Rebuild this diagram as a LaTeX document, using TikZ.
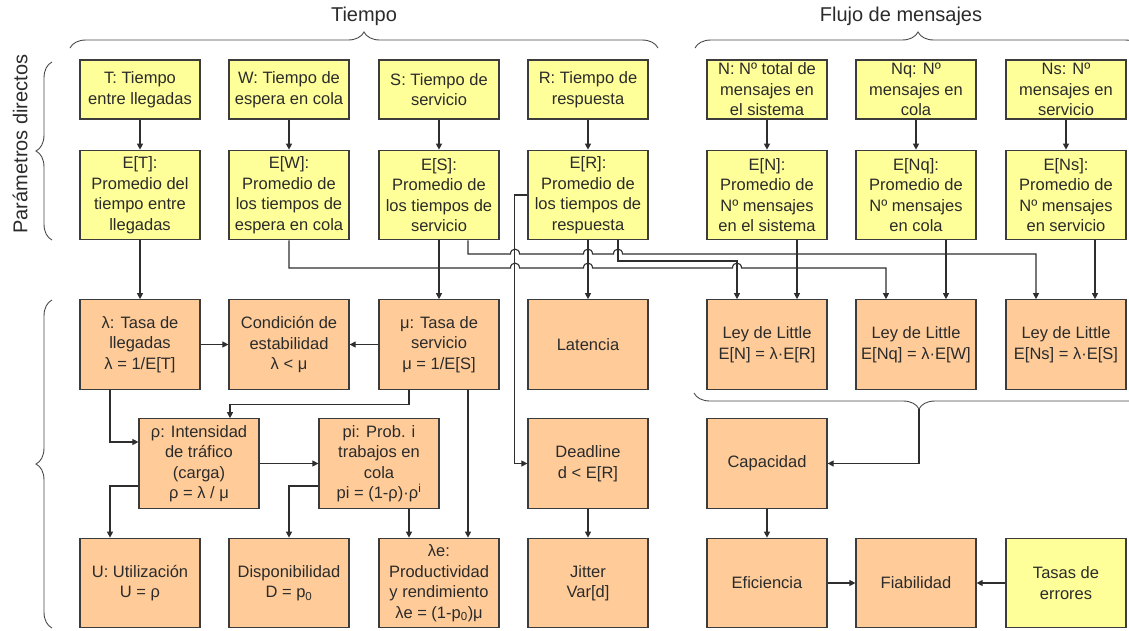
\documentclass[tikz,border=0pt]{standalone}
\usepackage{fontspec}
\setmainfont{Liberation Sans}
\usetikzlibrary{arrows.meta,decorations.pathreplacing}

\definecolor{yel}{HTML}{FFFF99}
\definecolor{ora}{HTML}{FFCC99}
\definecolor{boxline}{HTML}{3C3C3C}
\definecolor{lin}{HTML}{2E2E2E}
\definecolor{txt}{HTML}{2B2B2B}
\definecolor{brc}{HTML}{4A4A4A}

\newcommand\boxfont{\fontsize{16.5}{20.5}\selectfont}
\newcommand\ttlfont{\fontsize{20}{24}\selectfont}
% a small arch where a horizontal connector jumps over a vertical one
\newcommand\hp[2]{-- ({#1-4.5},#2) .. controls ({#1-4.5},{#2-6.5}) and ({#1+4.5},{#2-6.5}) .. ({#1+4.5},#2)}

\tikzset{
  box/.style={draw=boxline, line width=1.2pt, minimum width=120pt, inner sep=0pt,
              align=center, font=\boxfont, text=txt},
  yb/.style={box, fill=yel},
  ob/.style={box, fill=ora},
  hs/.style={minimum height=59pt},
  hl/.style={minimum height=89.5pt},
  conn/.style={draw=lin, line width=1.1pt, -{Triangle[length=6pt,width=6pt]}},
  brc/.style={decorate, decoration={brace, amplitude=16pt}, draw=brc, line width=0.9pt},
  ttl/.style={font=\ttlfont, text=txt, inner sep=0pt},
}

\begin{document}
\begin{tikzpicture}[x=1pt, y=-1pt]
\useasboundingbox (0,0) rectangle (1129,630);

% titles and braces
\node[ttl] (tiempo) at (364,16) {Tiempo};
\node[ttl] (flujo) at (901,16) {Flujo de mensajes};
\node[ttl, rotate=90] (param) at (20,144) {Parámetros directos};
\draw[brc] (70,48) -- (658,48);
\draw[brc] (695,48) -- (1141,48);
\draw[brc] (52,240) -- (52,62);
\draw[brc] (52,628) -- (52,300);
\draw[brc] (1144,393) -- (694,393);
\coordinate (tip) at (919,409);

% row 1: direct parameters
\node[yb, hs] (t)  at (140,89.5)  {T: Tiempo\\entre llegadas};
\node[yb, hs] (w)  at (289,89.5)  {W: Tiempo de\\espera en cola};
\node[yb, hs] (s)  at (439,89.5)  {S: Tiempo de\\servicio};
\node[yb, hs] (r)  at (588,89.5)  {R: Tiempo de\\respuesta};
\node[yb, hs] (n)  at (767,89.5)  {N: Nº total de\\mensajes en\\el sistema};
\node[yb, hs] (nq) at (916,89.5)  {Nq: Nº\\mensajes en\\cola};
\node[yb, hs] (ns) at (1066,89.5) {Ns: Nº\\mensajes en\\servicio};

% row 2: mean values
\node[yb, hl] (et)  at (140,195)  {E[T]:\\Promedio del\\tiempo entre\\llegadas};
\node[yb, hl] (ew)  at (289,195)  {E[W]:\\Promedio de\\los tiempos de\\espera en cola};
\node[yb, hl] (es)  at (439,195)  {E[S]:\\Promedio de\\los tiempos de\\servicio};
\node[yb, hl] (er)  at (588,195)  {E[R]:\\Promedio de\\los tiempos de\\respuesta};
\node[yb, hl] (en)  at (767,195)  {E[N]:\\Promedio de\\Nº mensajes\\en el sistema};
\node[yb, hl] (enq) at (916,195)  {E[Nq]:\\Promedio de\\Nº mensajes\\en cola};
\node[yb, hl] (ens) at (1066,195) {E[Ns]:\\Promedio de\\Nº mensajes\\en servicio};

% row 3
\node[ob, hl] (lam)  at (140,344.5)  {λ: Tasa de\\llegadas\\λ = 1/E[T]};
\node[ob, hl] (cond) at (289,344.5)  {Condición de\\estabilidad\\λ < μ};
\node[ob, hl] (mu)   at (439,344.5)  {μ: Tasa de\\servicio\\μ = 1/E[S]};
\node[ob, hl] (lat)  at (588,344.5)  {Latencia};
\node[ob, hl] (ley1) at (767,344.5)  {Ley de Little\\E[N] = λ·E[R]};
\node[ob, hl] (ley2) at (916,344.5)  {Ley de Little\\E[Nq] = λ·E[W]};
\node[ob, hl] (ley3) at (1066,344.5) {Ley de Little\\E[Ns] = λ·E[S]};

% row 4
\node[ob, hl] (rho) at (199,463.5) {ρ: Intensidad\\de tráfico\\(carga)\\ρ = λ / μ};
\node[ob, hl] (pi)  at (379,463.5) {pi: Prob. i\\trabajos en\\cola\\pi = (1-ρ)·ρ\textsuperscript{i}};
\node[ob, hl] (dl)  at (588,463.5) {Deadline\\d < E[R]};
\node[ob, hl] (cap) at (767,463.5) {Capacidad};

% row 5
\node[ob, hl] (u)    at (140,583)  {U: Utilización\\U = ρ};
\node[ob, hl] (disp) at (289,583)  {Disponibilidad\\D = p\textsubscript{0}};
\node[ob, hl] (lame) at (439,583)  {λe:\\Productividad\\y rendimiento\\λe = (1-p\textsubscript{0})μ};
\node[ob, hl] (jit)  at (588,583)  {Jitter\\Var[d]};
\node[ob, hl] (efi)  at (767,583)  {Eficiencia};
\node[ob, hl] (fia)  at (916,583)  {Fiabilidad};
\node[yb, hl] (tas)  at (1066,583) {Tasas de\\errores};

% parameters to their means
\draw[conn] (t) -- (et);
\draw[conn] (w) -- (ew);
\draw[conn] (s) -- (es);
\draw[conn] (r) -- (er);
\draw[conn] (n) -- (en);
\draw[conn] (nq) -- (enq);
\draw[conn] (ns) -- (ens);

% means to derived quantities
\draw[conn] (et) -- (lam);
\draw[conn] (es) -- (mu);
\draw[conn] (er) -- (lat);
\draw[conn] (er.west) -- ++(-13,0) |- (dl.west);
\draw[conn] ([xshift=30pt]er.south) -- (618,261) -- (737,261) -- ([xshift=-30pt]ley1.north);
\draw[conn] (ew.south) -- (289,268) \hp{515}{268} \hp{588}{268} \hp{737}{268}
            -- (886,268) -- ([xshift=-30pt]ley2.north);
\draw[conn] ([xshift=29pt]es.south) -- (468,254) \hp{515}{254} \hp{588}{254} \hp{618}{254}
            -- (1036,254) -- ([xshift=-30pt]ley3.north);
\draw[conn] ([xshift=30pt]en.south) -- ([xshift=30pt]ley1.north);
\draw[conn] ([xshift=30pt]enq.south) -- ([xshift=30pt]ley2.north);
\draw[conn] ([xshift=29pt]ens.south) -- ([xshift=29pt]ley3.north);

% rates, load and probabilities
\draw[conn] (lam) -- (cond);
\draw[conn] (mu) -- (cond);
\draw[conn] ([xshift=-30pt]lam.south) |- ([yshift=21.5pt]rho.west);
\draw[conn] ([xshift=-30pt]mu.south) -- ++(0,15) -| ([xshift=31pt]rho.north);
\draw[conn] ([xshift=29pt]mu.south) -- ([xshift=29pt]lame.north);
\draw[conn] (rho) -- (pi);
\draw[conn] ([yshift=-22.5pt]rho.west) -| ([xshift=-30pt]u.north);
\draw[conn] ([yshift=-22.5pt]pi.west) -| (disp.north);
\draw[conn] ([xshift=30pt]pi.south) -- ([xshift=-30pt]lame.north);
\draw[conn] (dl) -- (jit);

% capacity, efficiency, reliability
\draw[conn] (tip) |- (cap.east);
\draw[conn] (cap) -- (efi);
\draw[conn] (efi) -- (fia);
\draw[conn] (tas) -- (fia);
\end{tikzpicture}
\end{document}
